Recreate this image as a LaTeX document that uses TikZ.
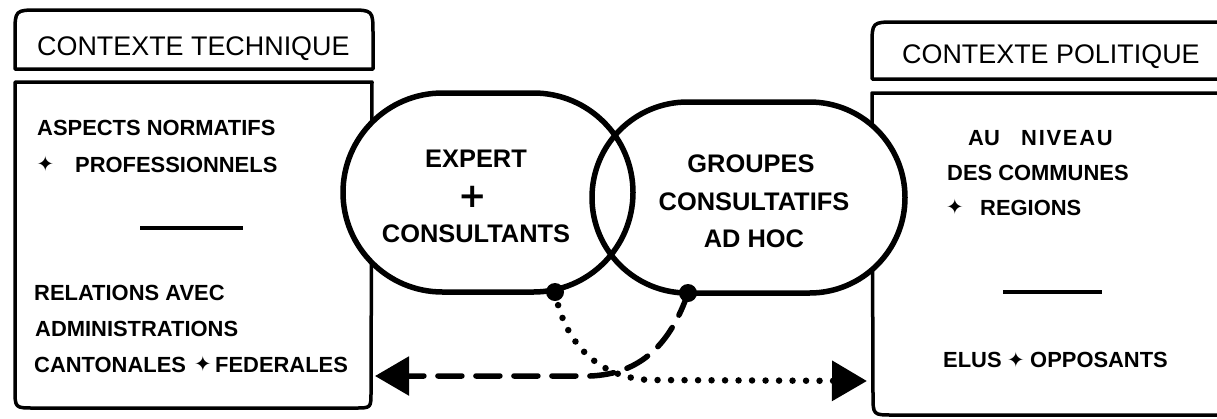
\documentclass[tikz,border=0pt]{standalone}
\usepackage{fontspec}
\setmainfont{Liberation Sans}
\newfontfamily\symfont{DejaVu Sans}
\usetikzlibrary{arrows.meta,shapes.misc}
\begin{document}
\begin{tikzpicture}[x=1bp,y=-1bp,
  box/.style={line width=3.5bp, line join=round},
  sep/.style={line width=3.5bp},
  blobfill/.style={rounded rectangle, fill=white, draw=none, inner sep=0pt},
  blob/.style={rounded rectangle, draw, line width=5.5bp, inner sep=0pt},
  ttl/.style={font=\fontsize{27}{27}\selectfont, anchor=base west, inner sep=0pt},
  body/.style={font=\bfseries\fontsize{22}{22}\selectfont, anchor=base west, inner sep=0pt},
  intext/.style={font=\bfseries\fontsize{25.5}{25.5}\selectfont, anchor=base, inner sep=0pt},
  bul/.style={font=\symfont\fontsize{21}{21}\selectfont, inner sep=0pt},
  bigplus/.style={font=\symfont\bfseries\fontsize{34}{34}\selectfont, inner sep=0pt},
  dot/.style={circle, fill=black, inner sep=0pt, minimum size=18bp},
  dashline/.style={line width=5.5bp, dash pattern=on 24bp off 14bp, line cap=round},
  dotline/.style={line width=6.5bp, dash pattern=on 0bp off 13.5bp, line cap=round}]
\useasboundingbox (0,0) rectangle (1217,418);
\fill[white] (0,0) rectangle (1217,418);

% boxes
\draw[box] (15,69) -- (15,34) .. controls (15,10) .. (39,10) -- (349,10) .. controls (373,10) .. (373,34) -- (373,69) -- cycle;
\draw[box] (15,82) -- (372,82) -- (371,392) .. controls (371,408) .. (355,408) -- (34,408) .. controls (15,408) .. (15,389) -- cycle;
\draw[box] (1230,79) -- (872,79) -- (872,46) .. controls (872,22) .. (896,22) -- (1230,22);
\draw[box] (1230,93) -- (872,93) -- (873,395) .. controls (873,415) .. (893,415) -- (1230,415);

% blobs
\node[blobfill, minimum width=290bp, minimum height=199bp] (expertbg) at (488,192.5) {};
\node[blobfill, minimum width=313bp, minimum height=191bp] (groupesbg) at (748.5,197.5) {};
\node[blob, minimum width=290bp, minimum height=199bp] (expert) at (488,192.5) {};
\node[blob, minimum width=313bp, minimum height=191bp] (groupes) at (748.5,197.5) {};

% titles
\node[ttl] (tt) at (37,55) {CONTEXTE TECHNIQUE};
\node[ttl] (tp) at (902,63) {CONTEXTE POLITIQUE};

% left body
\node[body] (a1) at (37,135) {ASPECTS NORMATIFS};
\node[bul] (b1) at (45.5,164) {✦};
\node[body] (a2) at (75,172) {PROFESSIONNELS};
\draw[sep] (140,228) -- (243,228);
\node[body] (a3) at (34,300) {RELATIONS AVEC};
\node[body] (a4) at (35,336) {ADMINISTRATIONS};
\node[body] (a5) at (34,372) {CANTONALES};
\node[bul] (b2) at (203,364) {✦};
\node[body] (a6) at (215,372) {FEDERALES};

% right body
\node[body] (r1) at (968,145) {AU};
\node[body, font=\bfseries\fontsize{22}{22}\selectfont\addfontfeature{LetterSpace=8}] (r1b) at (1021,145) {NIVEAU};
\node[body] (r2) at (947,180) {DES COMMUNES};
\node[bul] (b3) at (955,207) {✦};
\node[body] (r3) at (980,215) {REGIONS};
\draw[sep] (1003,292) -- (1102,292);
\node[body] (r4) at (943,367) {ELUS};
\node[bul] (b4) at (1016,360) {✦};
\node[body] (r5) at (1030,367) {OPPOSANTS};

% blob texts
\node[intext] (e1) at (476,167) {EXPERT};
\node[bigplus] (e2) at (473,197) {+};
\node[intext] (e3) at (476,242) {CONSULTANTS};
\node[intext] (g1) at (751,172) {GROUPES};
\node[intext] (g2) at (754,210) {CONSULTATIFS};
\node[intext] (g3) at (754,247) {AD HOC};

% dots and connectors
\node[dot] (d1) at (555,292) {};
\node[dot] (d2) at (688,293) {};
\coordinate (lt) at (375,376);
\coordinate (rt) at (867,381);
\draw[dashline, -{Triangle[length=34bp,width=38bp]}] (d2.center) .. controls (670,345) and (640,374) .. (590,376) -- (lt);
\draw[dotline, -{Triangle[length=35bp,width=39bp]}] (d1.center) .. controls (565,345) and (600,378) .. (650,380) -- (rt);
\end{tikzpicture}
\end{document}
